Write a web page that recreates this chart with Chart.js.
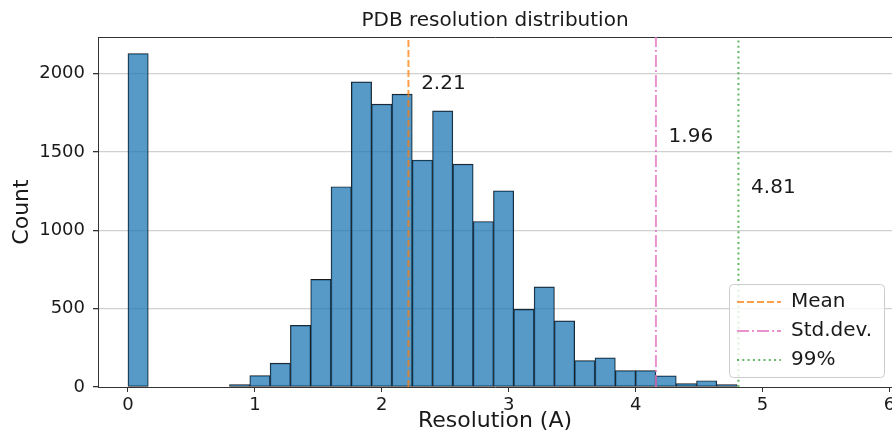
<!DOCTYPE html>
<html>
<head>
<meta charset="utf-8">
<script src="https://cdn.jsdelivr.net/npm/chart.js@4.4.1/dist/chart.umd.min.js"></script>
<style>
  html, body { margin: 0; padding: 0; background: #fff; }
  #histChart { display: block; }
</style>
</head>
<body>
<canvas id="histChart" width="892" height="441" style="width:892px;height:441px"></canvas>
<script>
// ---------- Data ----------
const binCenters = [0.08, 0.24, 0.40, 0.56, 0.72, 0.88, 1.04, 1.20, 1.36, 1.52,
                    1.68, 1.84, 2.00, 2.16, 2.32, 2.48, 2.64, 2.80, 2.96, 3.12,
                    3.28, 3.44, 3.60, 3.76, 3.92, 4.08, 4.24, 4.40, 4.56, 4.72];
const binCounts = [2129, 0, 0, 0, 0, 16, 73, 152, 394, 687,
                   1279, 1948, 1806, 1870, 1449, 1763, 1423, 1057, 1253, 496,
                   639, 422, 169, 186, 105, 105, 71, 22, 40, 16];

const refLabels = ['Mean', 'Std.dev.', '99%'];
const refValues = [2.21, 4.16, 4.81];

const noteText = ['2.21', '1.96', '4.81'];
const noteX = [2.31, 4.26, 4.91];
const noteY = [1904, 1564, 1238];

const xTicks = [0, 1, 2, 3, 4, 5, 6];
const yTicks = [0, 500, 1000, 1500, 2000];

// ---------- Style ----------
const X_MIN = -0.236, X_MAX = 6.02, Y_MAX = 2235;
const TEXT = '#1a1a1a';
const AXIS = '#333333';
const refColors = ['rgba(255,127,14,0.75)', 'rgba(227,119,194,0.8)', 'rgba(44,160,44,0.75)'];
const refDashes = [[7, 3], [12, 3, 2, 3], [2, 3.3]];

Chart.defaults.font.family = '"DejaVu Sans", sans-serif';
Chart.defaults.color = TEXT;

// ---------- Datasets ----------
const refDatasets = refLabels.map((label, i) => ({
  type: 'line',
  label: label,
  data: [{x: refValues[i], y: 0}, {x: refValues[i], y: Y_MAX}],
  borderColor: refColors[i],
  borderWidth: 2,
  borderDash: refDashes[i],
  pointRadius: 0,
  fill: false,
  order: 1
}));

const barDataset = {
  type: 'bar',
  label: 'Count',
  data: binCenters.map((x, i) => ({x: x, y: binCounts[i]})),
  backgroundColor: 'rgba(31,119,180,0.75)',
  borderColor: '#1a1a1a',
  borderWidth: 0.8,
  borderSkipped: false,
  barPercentage: 1,
  categoryPercentage: 1,
  order: 2
};

// ---------- Plugins ----------
// value notes next to the reference lines
const notesPlugin = {
  id: 'notes',
  afterDatasetsDraw(chart) {
    const {ctx, scales: {x, y}} = chart;
    ctx.save();
    ctx.font = '20px "DejaVu Sans"';
    ctx.fillStyle = TEXT;
    ctx.textAlign = 'left';
    ctx.textBaseline = 'alphabetic';
    noteText.forEach((t, i) => {
      ctx.fillText(t, x.getPixelForValue(noteX[i]), y.getPixelForValue(noteY[i]));
    });
    ctx.restore();
  }
};

// legend inside the plot, lower right, with a framed box on top of the lines
const legendBoxPlugin = {
  id: 'legendBox',
  afterInit(chart) {
    const lg = chart.legend;
    lg._layers = () => [{
      z: 10,
      draw: (area) => {
        const f = lg._frame;
        if (f) {
          const c = chart.ctx;
          c.save();
          c.beginPath();
          c.roundRect(f.x + 0.5, f.y + 0.5, f.w, f.h, 4);
          c.fillStyle = 'rgba(255,255,255,0.8)';
          c.fill();
          c.strokeStyle = '#cccccc';
          c.lineWidth = 1;
          c.stroke();
          c.restore();
        }
        lg.draw(area);
      }
    }];
  },
  afterUpdate(chart) {
    const lg = chart.legend, ca = chart.chartArea;
    const fw = 155, fh = 93;
    const fx = ca.right - 8 - fw, fy = ca.bottom - 10 - fh;
    lg._frame = {x: fx, y: fy, w: fw, h: fh};
    lg.left = fx - 1;
    lg.top = fy - 1;
    lg.right = fx + fw;
    lg.bottom = fy + fh + 10;
    lg.width = lg.right - lg.left;
    lg.height = lg.bottom - lg.top;
  }
};

// ---------- Chart ----------
const ctx = document.getElementById('histChart').getContext('2d');

new Chart(ctx, {
  type: 'bar',
  data: { datasets: [...refDatasets, barDataset] },
  options: {
    responsive: false,
    animation: false,
    layout: { padding: 0 },
    plugins: {
      title: {
        display: true,
        fullSize: false,
        text: 'PDB resolution distribution',
        color: TEXT,
        font: { size: 20, weight: 'normal' },
        padding: { top: 9, bottom: 4 }
      },
      legend: {
        position: 'chartArea',
        align: 'start',
        labels: {
          usePointStyle: true,
          pointStyleWidth: 44,
          padding: 9,
          color: TEXT,
          font: { size: 20 },
          generateLabels: () => refLabels.map((text, i) => ({
            text: text,
            fillStyle: refColors[i],
            strokeStyle: refColors[i],
            fontColor: TEXT,
            lineWidth: 2,
            lineDash: refDashes[i],
            pointStyle: 'line',
            hidden: false,
            datasetIndex: i
          }))
        }
      },
      tooltip: { enabled: false }
    },
    scales: {
      x: {
        type: 'linear',
        position: 'bottom',
        min: X_MIN,
        max: X_MAX,
        offset: false,
        afterBuildTicks: s => { s.ticks = xTicks.map(v => ({value: v})); },
        grid: { display: true, drawOnChartArea: false, offset: false, tickLength: 5, tickColor: AXIS },
        border: { color: AXIS, width: 1 },
        ticks: { font: { size: 18 }, color: TEXT, padding: 3, maxRotation: 0, autoSkip: false, callback: v => String(v) },
        title: { display: true, text: 'Resolution (A)', color: TEXT, font: { size: 22 }, padding: { top: 0, bottom: 7 } },
        afterFit: s => { s.height = 54; s.paddingLeft = 0; s.paddingRight = 0; }
      },
      xTop: {
        type: 'linear',
        position: 'top',
        min: X_MIN,
        max: X_MAX,
        grid: { display: false },
        ticks: { display: false },
        border: { display: true, color: AXIS, width: 1 },
        afterFit: s => { s.height = 0; s.paddingLeft = 0; s.paddingRight = 0; }
      },
      y: {
        type: 'linear',
        min: 0,
        max: Y_MAX,
        afterBuildTicks: s => { s.ticks = yTicks.map(v => ({value: v})); },
        grid: {
          color: c => (c.tick && c.tick.value === 0) ? 'rgba(0,0,0,0)' : '#d0d0d0',
          lineWidth: 1.3,
          tickLength: 5,
          tickColor: AXIS
        },
        border: { color: AXIS, width: 1 },
        ticks: { font: { size: 18 }, color: TEXT, padding: 8, callback: v => String(v) },
        title: { display: true, text: 'Count', color: TEXT, font: { size: 22 }, padding: { top: 9 } },
        afterFit: s => { s.width = 98; s.paddingTop = 0; s.paddingBottom = 0; }
      }
    }
  },
  plugins: [notesPlugin, legendBoxPlugin]
});
</script>
</body>
</html>
